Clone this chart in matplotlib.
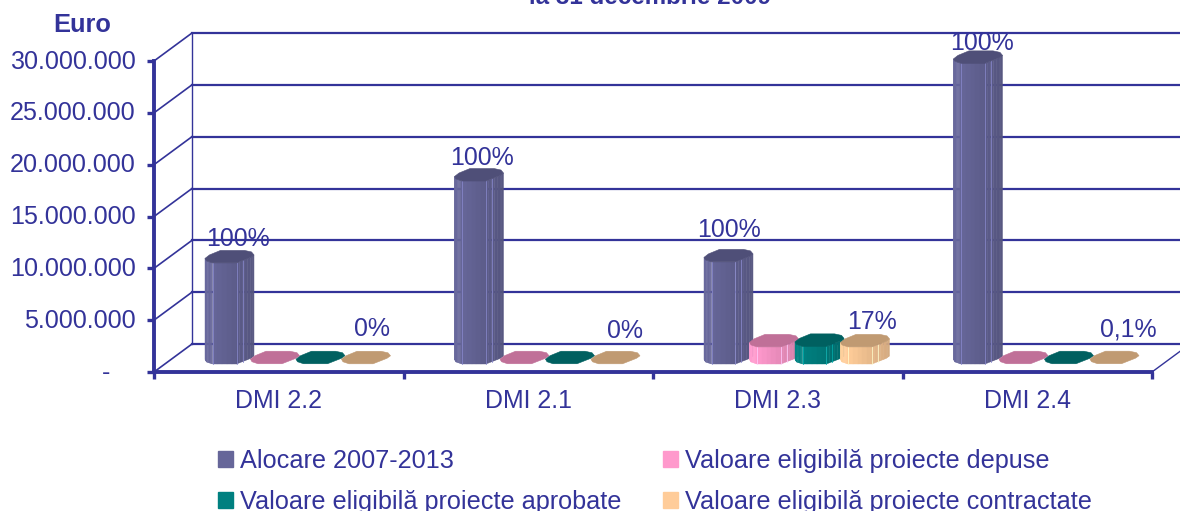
import numpy as np
import matplotlib
matplotlib.use("Agg")
import matplotlib.pyplot as plt
from matplotlib.patches import Patch
from matplotlib.colors import to_rgb
from matplotlib.transforms import ScaledTranslation

categories = ["DMI 2.2", "DMI 2.1", "DMI 2.3", "DMI 2.4"]
series_names = ["Alocare 2007-2013", "Valoare eligibilă proiecte depuse",
                "Valoare eligibilă proiecte aprobate", "Valoare eligibilă proiecte contractate"]
alocare = [9750000, 17650000, 9850000, 29000000]
depuse = [25000, 25000, 1650000, 25000]
aprobate = [25000, 25000, 1700000, 25000]
contractate = [20000, 20000, 1650000, 30000]
alloc_labels = ["100%", "100%", "100%", "100%"]
end_labels = ["0%", "0%", "17%", "0,1%"]
y_ticks = [0, 5000000, 10000000, 15000000, 20000000, 25000000, 30000000]
y_labels = ["-\u2003", "5.000.000", "10.000.000", "15.000.000", "20.000.000", "25.000.000", "30.000.000"]

INK = "#333399"
body_colors = ["#666699", "#FF99CC", "#008080", "#FFCC99"]
cap_colors = ["#4F4F78", "#C07098", "#006060", "#C09A72"]
legend_colors = ["#666699", "#FF99CC", "#008080", "#FFCC99"]

W, H = 1180, 511
L, R, T, B = 154, 1152, 61, 372
plt.rcParams["font.family"] = ["Liberation Sans", "DejaVu Sans"]
fig = plt.figure(figsize=(W / 100, H / 100), dpi=100)
ax = fig.add_axes([L / W, 1 - B / H, (R - L) / W, (B - T) / H])
ax.set_xlim(0, 4)
ax.set_ylim(0, 30000000)

px = 4 / (R - L)
py = 30000000 / (B - T)
DX, DY = 38 * px, 28 * py

# walls
for v in y_ticks:
    ax.plot([0, DX], [v, v + DY], color=INK, lw=1.2, clip_on=False, zorder=1)
    ax.plot([DX, 4 + DX], [v + DY, v + DY], color=INK, lw=1.6, clip_on=False, zorder=1)
ax.plot([DX, DX], [DY, 30000000 + DY], color=INK, lw=1.0, clip_on=False, zorder=1)
ax.plot([4, 4 + DX], [0, DY], color=INK, lw=1.0, clip_on=False, zorder=1)

# footprint of one column, px around its centre: front edge then back edge
front = np.array([(-24.5, -1.5), (-23, -4), (-17, -6), (7, -6), (21, -0.5), (24.5, 2)], float)
back = np.array([(24.5, 2), (22, 5), (15, 6.5), (-9, 6.5), (-20, 2)], float)
STRIPS = 5


def shade(color, k):
    return tuple(min(1, c * k) for c in to_rgb(color))


def column(cx, value, body, cap, z):
    base = DY / 2
    top = value + base
    for i in range(len(front) - 1):
        (x0, y0), (x1, y1) = front[i], front[i + 1]
        for s in range(STRIPS):
            a, b = s / STRIPS, (s + 1) / STRIPS
            xa, xb = x0 + (x1 - x0) * a, x0 + (x1 - x0) * b
            ya, yb = y0 + (y1 - y0) * a, y0 + (y1 - y0) * b
            k = 1.03 - 0.2 * ((xa + xb) / 2 + 24.5) / 49
            poly = [(cx + xa * px, base + ya * py), (cx + xb * px, base + yb * py),
                    (cx + xb * px, top + yb * py), (cx + xa * px, top + ya * py)]
            if value > 100000:
                ax.fill(*zip(*poly), color=shade(body, k), lw=0.3, clip_on=False, zorder=z)
    if value > 100000:
        for xe, ye in [front[2], front[3], (13, -3.5)]:
            ax.plot([cx + xe * px] * 2, [base + ye * py, top + ye * py],
                    color=shade(body, 1.35), lw=0.7, alpha=0.75, clip_on=False, zorder=z + 0.1)
    outline = np.vstack([front, back])
    ax.fill(cx + outline[:, 0] * px, top + outline[:, 1] * py, color=cap,
            lw=0.4, clip_on=False, zorder=z + 0.2)


series = [alocare, depuse, aprobate, contractate]
for c in range(len(categories)):
    center = c + 0.5 + DX / 2
    for s, values in enumerate(series):
        cx = center + (s - 1.5) * 45.5 * px
        column(cx, values[c], body_colors[s], cap_colors[s], 3 + s + c * 5)

# value labels
alloc_off = [(8, 18), (3, 17), (1, 26), (4, 14)]
end_off = [(6, 29), (10, 27), (7, 19), (14, 28)]
for c in range(len(categories)):
    center = c + 0.5 + DX / 2
    x0 = center - 1.5 * 45.5 * px
    x3 = center + 1.5 * 45.5 * px
    ax.annotate(alloc_labels[c], (x0, alocare[c] + DY / 2), xytext=alloc_off[c],
                textcoords="offset pixels", ha="center", va="center", fontsize=17.9,
                color=INK, annotation_clip=False, zorder=40)
    ax.annotate(end_labels[c], (x3, contractate[c] + DY / 2), xytext=end_off[c],
                textcoords="offset pixels", ha="center", va="center", fontsize=17.9,
                color=INK, annotation_clip=False, zorder=40)

# axes
for sp in ["top", "right"]:
    ax.spines[sp].set_visible(False)
for sp in ["left", "bottom"]:
    ax.spines[sp].set_color(INK)
    ax.spines[sp].set_linewidth(2.8)
    ax.spines[sp].set_zorder(30)
ax.patch.set_alpha(0)
ax.set_yticks(y_ticks, y_labels)
ax.set_xticks(range(5), [""] * 5)
ax.set_xticks(np.arange(4) + 0.5, categories, minor=True)
ax.tick_params(axis="y", length=5.2, width=2.4, color=INK, labelcolor=INK, labelsize=18.1, pad=8.2)
ax.tick_params(axis="x", which="major", length=5, width=2.4, color=INK)
ax.tick_params(axis="x", which="minor", length=0, labelcolor=INK, labelsize=17.9, pad=12)
lift = ScaledTranslation(0, 2 / 100, fig.dpi_scale_trans)
for lab in ax.get_yticklabels():
    lab.set_transform(lab.get_transform() + lift)

fig.text(650 / W, 1 - 4 / H, "la 31 decembrie 2009", ha="center", va="baseline",
         fontsize=17.4, fontweight="bold", color=INK)
fig.text(82 / W, 1 - 25 / H, "Euro", ha="center", va="center",
         fontsize=18.3, fontweight="bold", color=INK)

handles = [Patch(color=legend_colors[i], label=series_names[i]) for i in [0, 2, 1, 3]]
fig.legend(handles=handles, ncol=2, loc="lower left", bbox_to_anchor=(218 / W, 1 - 511 / H - 3 / H),
           bbox_transform=fig.transFigure, frameon=False, fontsize=18.2, labelcolor=INK,
           handlelength=0.6, handleheight=0.6, handletextpad=0.27, columnspacing=1.65,
           labelspacing=0.69, borderpad=0, borderaxespad=0)

fig.savefig("out.png", dpi=100)
